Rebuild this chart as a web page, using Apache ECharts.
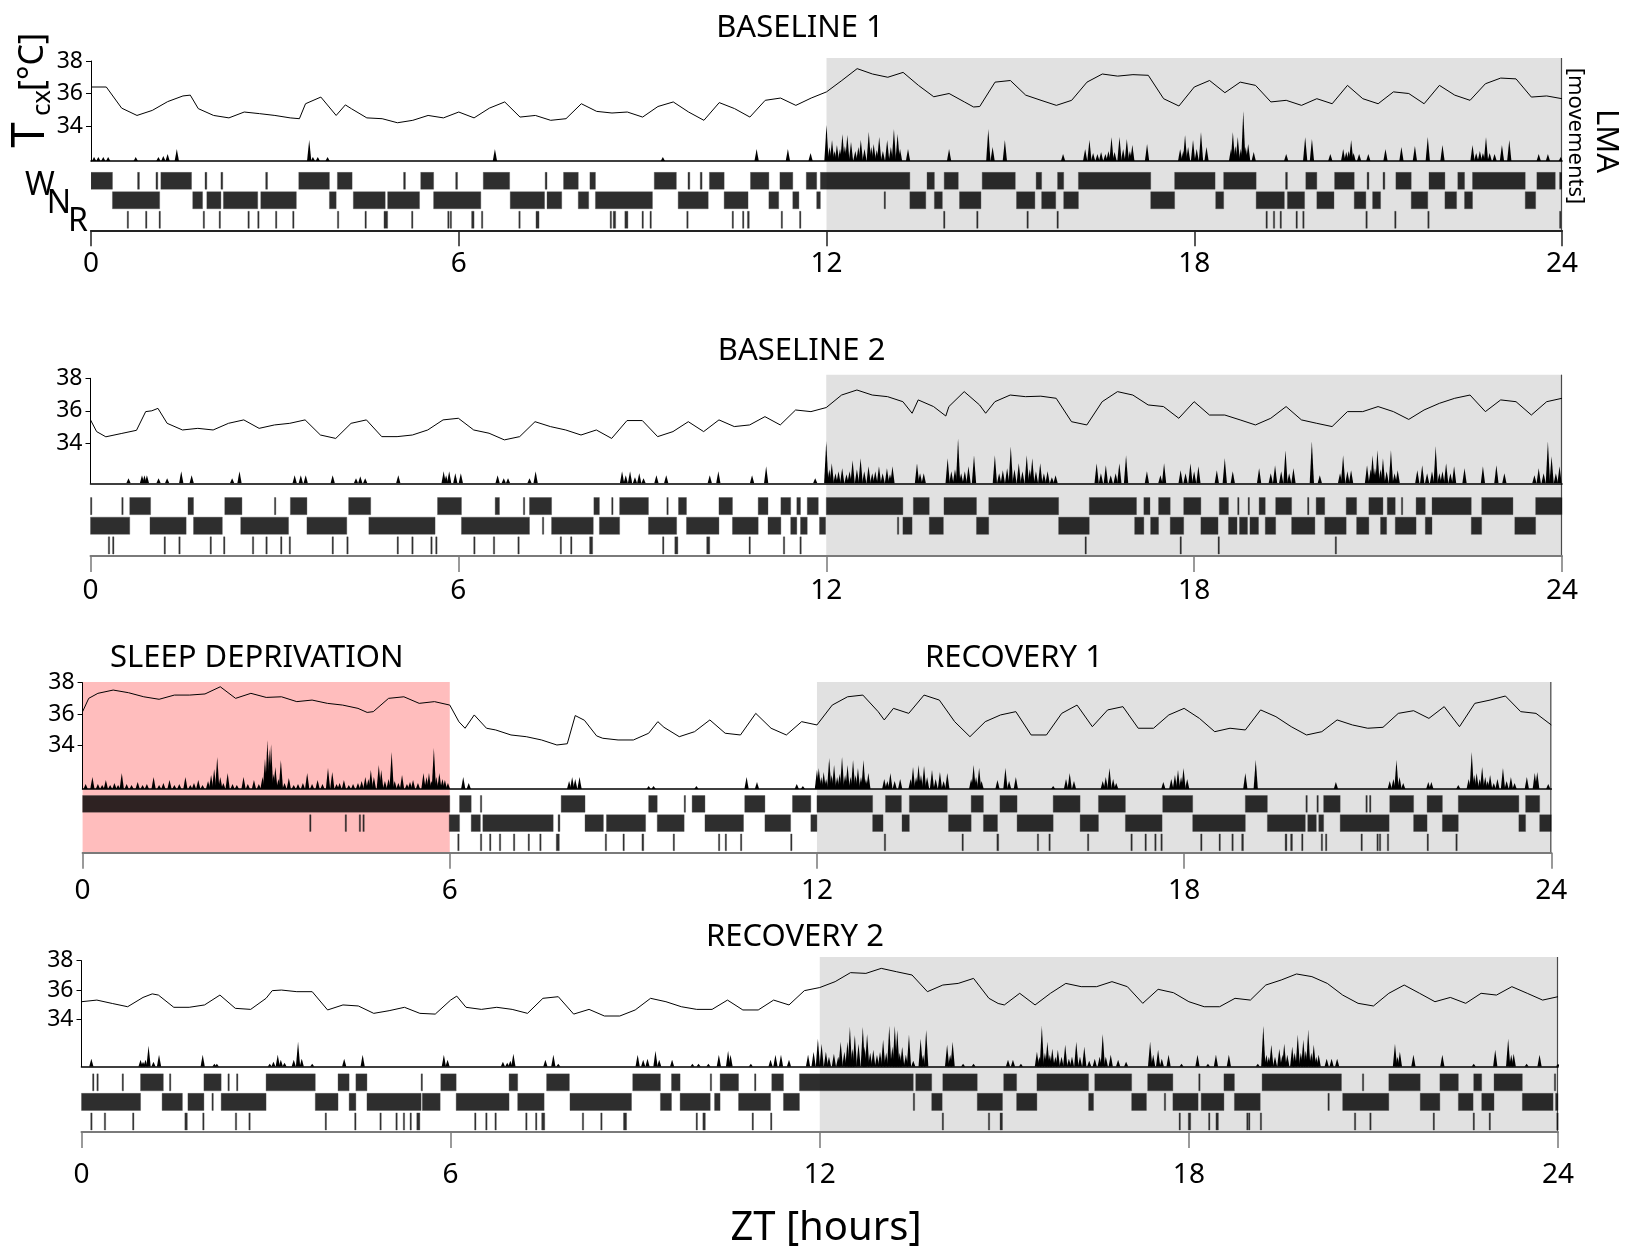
<!DOCTYPE html>
<html><head><meta charset="utf-8">
<script src="https://cdn.jsdelivr.net/npm/echarts@6/dist/echarts.min.js"></script>
<style>html,body{margin:0;padding:0;background:#fff}#c{width:1626px;height:1251px}</style>
</head><body><div id="c"></div>
<script>
const FONT = '"Noto Sans", "Open Sans", sans-serif';
const titles = ['BASELINE 1','BASELINE 2','SLEEP DEPRIVATION','RECOVERY 1','RECOVERY 2'];
const tempTicks = [34, 36, 38];
const darkPhase = [[12, 24]];
const sleepDep = [[0, 6]];

// ---------- BASELINE 1 ----------
const tempB1 = [[0,36.4],[0.25,36.4],[0.5,35.1],[0.75,34.65],[1,34.96],[1.25,35.5],[1.5,35.85],[1.62,35.9],[1.75,35.07],[2,34.65],[2.25,34.5],[2.5,34.86],[2.75,34.76],[3,34.65],[3.25,34.5],[3.4,34.45],[3.5,35.37],[3.75,35.78],[4,34.65],[4.15,35.3],[4.25,35.06],[4.5,34.5],[4.75,34.45],[5,34.2],[5.25,34.35],[5.5,34.65],[5.75,34.5],[6,34.86],[6.25,34.5],[6.5,35.1],[6.75,35.48],[7,34.55],[7.25,34.65],[7.5,34.35],[7.75,34.45],[8,35.37],[8.25,34.9],[8.5,34.8],[8.75,34.86],[9,34.55],[9.25,35.2],[9.5,35.48],[9.75,34.86],[10,34.35],[10.25,35.44],[10.5,35.07],[10.75,34.55],[11,35.58],[11.25,35.72],[11.5,35.27],[11.75,35.72],[12,36.1],[12.25,36.8],[12.5,37.53],[12.75,37.2],[13,37.0],[13.25,37.3],[13.5,36.5],[13.75,35.8],[14,36.0],[14.25,35.48],[14.4,35.17],[14.5,35.2],[14.75,36.7],[15,36.8],[15.25,35.9],[15.5,35.58],[15.75,35.27],[16,35.58],[16.25,36.7],[16.5,37.2],[16.75,37.07],[17,37.16],[17.25,37.12],[17.5,35.68],[17.75,35.23],[18,36.4],[18.25,36.8],[18.5,36.05],[18.75,36.7],[19,36.5],[19.25,35.48],[19.5,35.58],[19.75,35.27],[20,35.68],[20.25,35.37],[20.5,36.5],[20.75,35.68],[21,35.37],[21.25,36.1],[21.5,36.0],[21.75,35.37],[22,36.5],[22.25,35.9],[22.5,35.58],[22.75,36.6],[23,36.95],[23.25,36.9],[23.5,35.78],[23.75,35.85],[24,35.68]];
const lmaB1 = [[0.05,4],[0.12,4],[0.2,4],[0.28,4],[0.73,4],[1.1,4],[1.18,5],[1.25,7],[1.4,12],[3.56,21],[3.62,4],[3.7,4],[3.86,4],[6.59,12],[9.33,4],[10.86,12],[11.37,12],[11.74,8],[12.0,36],[12.05,14],[12.09,21],[12.13,10],[12.17,16],[12.22,12],[12.26,27],[12.3,15],[12.34,26],[12.4,19],[12.47,10],[12.52,14],[12.56,21],[12.62,12],[12.69,29],[12.73,14],[12.77,17],[12.82,11],[12.86,24],[12.92,10],[12.99,21],[13.05,14],[13.1,32],[13.16,27],[13.2,12],[13.33,12],[14.0,12],[14.64,32],[14.71,14],[14.91,21],[15.86,7],[16.22,12],[16.29,21],[16.35,8],[16.42,7],[16.48,9],[16.55,7],[16.6,10],[16.65,24],[16.7,9],[16.78,24],[16.84,12],[16.9,22],[16.95,10],[16.99,16],[17.23,17],[17.77,12],[17.82,10],[17.85,26],[17.9,14],[17.98,21],[18.04,12],[18.11,29],[18.2,14],[18.6,12],[18.63,29],[18.67,15],[18.71,24],[18.76,12],[18.8,50],[18.84,14],[18.88,17],[18.97,9],[19.5,7],[19.81,24],[19.92,22],[20.22,7],[20.43,12],[20.48,9],[20.52,10],[20.56,21],[20.6,8],[20.69,7],[20.84,7],[21.12,12],[21.38,14],[21.6,15],[21.81,24],[22.05,16],[22.54,16],[22.6,8],[22.66,10],[22.71,8],[22.76,24],[22.82,8],[22.9,7],[23.02,16],[23.14,21],[23.62,7],[23.77,7],[23.98,4]];
const wakeB1 = [[0,0.35],[0.76,0.79],[1.06,1.09],[1.14,1.64],[1.86,1.89],[2.12,2.15],[2.85,2.88],[3.39,3.89],[4.02,4.26],[5.1,5.13],[5.38,5.59],[5.95,5.98],[6.4,6.83],[7.41,7.44],[7.71,7.95],[8.14,8.23],[9.19,9.55],[9.74,9.77],[9.94,9.97],[10.09,10.33],[10.76,11.06],[11.24,11.45],[11.67,11.84],[11.9,13.36],[13.64,13.76],[13.92,14.15],[14.54,15.08],[15.42,15.51],[15.77,15.87],[16.11,17.29],[17.68,18.34],[18.48,19.01],[19.49,19.52],[19.82,20.0],[20.29,20.61],[20.82,20.85],[21.08,21.11],[21.29,21.54],[21.83,22.09],[22.3,22.41],[22.54,23.4],[23.59,23.89],[23.96,24]];
const nremB1 = [[0.35,1.12],[1.66,1.82],[1.89,2.12],[2.16,2.72],[2.77,3.35],[3.89,4.0],[4.28,4.8],[4.84,5.36],[5.59,6.36],[6.84,7.4],[7.44,7.68],[7.95,8.12],[8.23,9.16],[9.58,10.07],[10.33,10.72],[11.06,11.22],[11.45,11.55],[11.84,11.9],[12.94,12.96],[13.36,13.62],[13.76,13.89],[14.17,14.52],[15.1,15.4],[15.51,15.74],[15.87,16.11],[17.29,17.68],[18.35,18.48],[19.01,19.47],[19.52,19.8],[20.0,20.28],[20.61,20.8],[20.91,21.04],[21.54,21.81],[22.09,22.28],[22.41,22.54],[23.4,23.57]];
const remB1 = [[0.59,0.61],[0.89,0.91],[1.11,1.13],[1.83,1.85],[2.09,2.11],[2.56,2.58],[2.72,2.74],[3.01,3.03],[3.29,3.31],[4.02,4.04],[4.47,4.49],[4.78,4.84],[5.23,5.25],[5.82,5.84],[5.86,5.88],[6.21,6.25],[6.37,6.39],[6.98,7.0],[7.26,7.31],[8.47,8.49],[8.52,8.56],[8.71,8.76],[8.99,9.01],[9.12,9.14],[9.72,9.74],[10.46,10.48],[10.63,10.65],[10.71,10.74],[11.26,11.28],[11.56,11.58],[13.91,13.93],[14.45,14.47],[15.27,15.29],[15.76,15.78],[19.17,19.19],[19.29,19.31],[19.4,19.42],[19.66,19.68],[19.77,19.79],[20.8,20.82],[21.27,21.29],[21.81,21.83],[23.96,23.98]];

// ---------- BASELINE 2 ----------
const tempB2 = [[0,35.44],[0.1,34.72],[0.25,34.4],[0.5,34.6],[0.75,34.8],[0.9,35.95],[1.0,36.0],[1.1,36.15],[1.25,35.23],[1.5,34.82],[1.75,34.92],[2,34.82],[2.25,35.23],[2.5,35.44],[2.75,34.92],[3,35.13],[3.25,35.23],[3.5,35.44],[3.75,34.51],[4,34.3],[4.25,35.23],[4.5,35.44],[4.75,34.41],[5,34.41],[5.25,34.51],[5.5,34.82],[5.75,35.44],[6,35.54],[6.25,34.82],[6.5,34.62],[6.75,34.21],[7,34.41],[7.25,35.33],[7.5,35.03],[7.75,34.82],[8,34.51],[8.25,34.82],[8.5,34.3],[8.75,35.4],[9,35.4],[9.25,34.41],[9.5,34.72],[9.75,35.33],[10,34.72],[10.25,35.44],[10.5,35.03],[10.75,35.13],[11,35.64],[11.25,35.13],[11.5,36.05],[11.75,35.95],[12,36.2],[12.25,36.97],[12.5,37.28],[12.75,36.97],[13,36.87],[13.25,36.56],[13.4,35.85],[13.5,36.67],[13.75,36.26],[13.95,35.68],[14,36.26],[14.25,37.18],[14.5,36.36],[14.6,35.85],[14.75,36.56],[15,36.97],[15.25,36.87],[15.5,36.9],[15.75,36.77],[16,35.33],[16.25,35.13],[16.5,36.56],[16.75,37.18],[17,36.97],[17.25,36.36],[17.5,36.26],[17.75,35.54],[18,36.56],[18.25,35.74],[18.5,35.74],[18.75,35.44],[19,35.13],[19.25,35.54],[19.5,36.26],[19.75,35.44],[20,35.23],[20.25,35.03],[20.5,35.95],[20.75,35.95],[21,36.26],[21.25,35.95],[21.5,35.47],[21.75,36.05],[22,36.46],[22.25,36.77],[22.5,36.97],[22.75,35.95],[23,36.67],[23.25,36.56],[23.5,35.74],[23.75,36.56],[24,36.77]];
const lmaB2 = [[0.62,5],[0.84,8],[0.88,8],[0.92,8],[1.11,5],[1.25,5],[1.48,12],[1.65,8],[2.31,5],[2.43,12],[3.33,8],[3.43,8],[3.51,8],[3.95,8],[4.33,5],[4.4,7],[4.48,5],[5.02,8],[5.76,12],[5.8,8],[5.85,12],[5.95,10],[6.04,10],[6.64,8],[6.74,5],[6.81,5],[7.16,5],[7.26,12],[8.67,12],[8.73,8],[8.8,12],[8.88,6],[8.95,10],[9.02,5],[9.23,8],[9.39,8],[10.1,8],[10.24,12],[10.79,8],[11.02,17],[11.82,5],[12.0,42],[12.05,14],[12.09,20],[12.15,10],[12.2,12],[12.26,15],[12.33,9],[12.38,12],[12.43,23],[12.5,14],[12.56,25],[12.62,12],[12.69,17],[12.75,10],[12.8,12],[12.86,17],[12.92,10],[12.99,15],[13.04,9],[13.08,17],[13.48,20],[13.53,10],[13.59,10],[13.98,25],[14.04,12],[14.1,14],[14.15,45],[14.2,10],[14.26,12],[14.32,17],[14.41,28],[14.75,28],[14.82,10],[14.88,13],[14.95,15],[15.01,37],[15.07,14],[15.14,20],[15.2,12],[15.27,28],[15.32,14],[15.36,25],[15.42,12],[15.49,20],[15.55,10],[15.61,12],[15.68,6],[15.74,8],[16.41,20],[16.48,10],[16.56,18],[16.64,8],[16.72,10],[16.78,20],[16.89,28],[17.23,12],[17.45,8],[17.51,20],[17.78,13],[17.86,10],[17.94,20],[18.0,12],[18.07,17],[18.37,13],[18.5,25],[18.63,12],[19.06,15],[19.25,10],[19.32,18],[19.42,12],[19.49,33],[19.55,10],[19.62,15],[19.92,42],[20.05,8],[20.38,10],[20.43,28],[20.5,12],[20.56,13],[20.82,18],[20.88,14],[20.91,28],[20.95,15],[20.99,33],[21.04,14],[21.08,25],[21.14,12],[21.21,33],[21.27,10],[21.32,13],[21.64,13],[21.72,18],[21.8,10],[21.88,12],[21.94,37],[22.0,10],[22.05,12],[22.11,20],[22.18,10],[22.24,17],[22.41,15],[22.71,17],[22.93,18],[23.06,10],[23.55,8],[23.62,15],[23.7,10],[23.77,42],[23.83,27],[23.9,10],[23.96,17]];
const wakeB2 = [[0,0.02],[0.51,0.53],[0.64,0.98],[1.59,1.68],[2.19,2.47],[3.0,3.02],[3.26,3.53],[4.21,4.57],[5.66,6.05],[6.6,6.67],[7.06,7.08],[7.16,7.52],[8.21,8.3],[8.5,8.52],[8.63,9.1],[9.4,9.42],[9.59,9.72],[10.25,10.47],[10.89,11.05],[11.26,11.42],[11.52,11.58],[11.69,11.87],[12.0,13.25],[13.42,13.68],[13.92,14.45],[14.65,15.79],[16.29,17.06],[17.18,17.28],[17.42,17.61],[17.83,18.11],[18.41,18.56],[18.71,18.73],[18.88,18.9],[19.06,19.16],[19.33,19.59],[19.85,19.87],[19.99,20.13],[20.48,20.65],[20.85,21.08],[21.15,21.28],[21.38,21.4],[21.62,21.77],[21.88,22.52],[22.69,23.2],[23.57,24]];
const nremB2 = [[0,0.64],[0.97,1.56],[1.68,2.15],[2.45,3.23],[3.53,4.18],[4.54,5.62],[6.05,7.16],[7.37,7.39],[7.52,8.2],[8.3,8.63],[9.1,9.56],[9.72,10.25],[10.47,10.89],[11.05,11.26],[11.42,11.52],[11.58,11.69],[11.89,11.99],[13.16,13.18],[13.25,13.4],[13.68,13.91],[14.45,14.65],[15.79,16.29],[17.03,17.18],[17.29,17.42],[17.61,17.83],[18.11,18.39],[18.56,18.7],[18.74,18.87],[18.91,19.05],[19.16,19.33],[19.59,19.97],[20.13,20.48],[20.65,20.85],[21.04,21.14],[21.28,21.62],[21.77,21.88],[22.52,22.69],[23.23,23.57]];
const remB2 = [[0.29,0.31],[0.36,0.38],[1.2,1.22],[1.44,1.46],[1.95,1.97],[2.17,2.19],[2.64,2.66],[2.86,2.88],[3.1,3.12],[3.24,3.26],[3.94,3.96],[4.18,4.2],[5.0,5.02],[5.24,5.26],[5.55,5.57],[5.63,5.65],[6.25,6.27],[6.57,6.59],[6.97,6.99],[7.66,7.68],[7.83,7.85],[8.14,8.19],[9.33,9.35],[9.53,9.58],[10.05,10.1],[10.74,10.76],[11.3,11.32],[11.57,11.59],[16.22,16.24],[17.77,17.79],[18.39,18.41],[20.3,20.32]];

// ---------- SLEEP DEPRIVATION / RECOVERY 1 ----------
const tempR1 = [[0,36.15],[0.1,37.0],[0.25,37.32],[0.5,37.53],[0.75,37.36],[1,37.1],[1.25,36.94],[1.5,37.21],[1.75,37.21],[2,37.28],[2.25,37.74],[2.5,37.0],[2.75,37.32],[3,37.06],[3.25,37.1],[3.5,36.79],[3.75,36.89],[4,36.68],[4.25,36.57],[4.5,36.36],[4.65,36.1],[4.75,36.15],[5,37.0],[5.25,37.1],[5.5,36.68],[5.75,36.79],[6,36.57],[6.15,35.5],[6.25,35.09],[6.4,35.94],[6.6,35.09],[6.75,34.98],[7,34.66],[7.25,34.55],[7.5,34.34],[7.75,34.02],[7.92,34.1],[8.05,35.9],[8.2,35.6],[8.4,34.6],[8.5,34.45],[8.75,34.34],[9,34.34],[9.25,34.77],[9.4,35.51],[9.5,35.15],[9.75,34.55],[10,34.87],[10.25,35.62],[10.5,34.77],[10.75,34.66],[11,36.04],[11.25,35.09],[11.5,34.66],[11.75,35.51],[12,35.3],[12.25,36.57],[12.5,37.1],[12.75,37.21],[13,36.15],[13.1,35.62],[13.25,36.36],[13.5,36.04],[13.75,37.21],[14,36.89],[14.25,35.51],[14.5,34.55],[14.75,35.51],[15,35.94],[15.25,36.15],[15.5,34.66],[15.75,34.66],[16,36.04],[16.25,36.57],[16.5,35.19],[16.75,36.26],[17,36.47],[17.25,35.09],[17.5,35.09],[17.75,35.94],[18,36.36],[18.25,35.72],[18.5,34.87],[18.75,35.09],[19,34.98],[19.25,36.26],[19.5,35.83],[19.75,35.19],[20,34.66],[20.25,34.87],[20.5,35.62],[20.75,35.3],[21,35.09],[21.25,35.15],[21.5,36.04],[21.75,36.21],[22,35.72],[22.25,36.47],[22.5,35.19],[22.75,36.68],[23,36.89],[23.25,37.15],[23.5,36.15],[23.75,36.04],[24,35.3]];
const lmaR1 = [[0.05,5],[0.16,12],[0.25,5],[0.32,4],[0.38,9],[0.45,4],[0.52,6],[0.58,4],[0.64,16],[0.72,5],[0.8,4],[0.9,7],[0.98,4],[1.05,5],[1.16,12],[1.25,4],[1.32,6],[1.42,9],[1.5,4],[1.58,5],[1.68,12],[1.76,4],[1.82,6],[1.89,9],[1.96,4],[2.05,8],[2.1,14],[2.15,20],[2.2,32],[2.25,12],[2.3,6],[2.37,16],[2.45,5],[2.52,4],[2.63,12],[2.7,5],[2.8,9],[2.88,5],[2.94,12],[2.98,30],[3.02,49],[3.05,40],[3.08,45],[3.12,15],[3.15,22],[3.2,10],[3.24,29],[3.3,6],[3.37,11],[3.45,4],[3.52,5],[3.6,6],[3.67,16],[3.75,5],[3.84,9],[3.92,5],[4.01,21],[4.08,17],[4.15,5],[4.2,6],[4.27,9],[4.35,4],[4.42,5],[4.5,6],[4.56,8],[4.62,12],[4.67,10],[4.71,19],[4.76,12],[4.84,24],[4.88,19],[4.94,8],[5.0,10],[5.05,37],[5.1,8],[5.16,6],[5.22,14],[5.3,5],[5.35,7],[5.4,9],[5.48,6],[5.57,16],[5.62,12],[5.66,16],[5.7,8],[5.74,41],[5.78,12],[5.83,16],[5.88,10],[5.92,9],[5.97,6],[6.22,12],[6.31,6],[7.95,8],[8.0,12],[8.05,10],[8.12,12],[9.25,3],[9.33,3],[10.03,3],[10.85,12],[11.02,7],[11.67,5],[11.77,3],[12.0,19],[12.03,21],[12.07,12],[12.11,17],[12.15,10],[12.2,31],[12.24,14],[12.28,24],[12.33,12],[12.37,15],[12.41,32],[12.46,14],[12.5,24],[12.55,12],[12.59,29],[12.63,14],[12.67,21],[12.72,12],[12.76,29],[12.8,10],[12.84,16],[13.1,10],[13.15,8],[13.2,16],[13.27,8],[13.36,10],[13.53,10],[13.57,22],[13.62,12],[13.66,24],[13.7,14],[13.75,23],[13.8,12],[13.88,19],[13.94,10],[14.01,17],[14.07,8],[14.13,16],[14.52,10],[14.56,24],[14.6,12],[14.65,21],[14.69,8],[14.95,9],[15.08,21],[15.14,8],[15.25,12],[15.86,3],[16.07,10],[16.13,16],[16.2,8],[16.67,8],[16.72,12],[16.78,21],[16.84,10],[16.89,6],[17.66,7],[17.79,10],[17.85,14],[17.9,19],[17.95,12],[17.99,21],[18.05,10],[19.0,16],[19.17,29],[20.48,7],[21.36,8],[21.42,10],[21.47,29],[21.52,12],[21.58,6],[21.99,7],[22.04,7],[22.48,4],[22.65,10],[22.7,37],[22.74,14],[22.78,16],[22.83,10],[22.87,22],[22.92,12],[22.96,8],[23.0,14],[23.06,6],[23.12,10],[23.21,21],[23.27,8],[23.34,12],[23.4,6],[23.6,12],[23.73,16],[23.77,17],[23.95,5]];
const wakeR1 = [[0,6],[6.16,6.35],[6.5,6.52],[7.82,8.21],[9.25,9.39],[9.83,9.85],[9.96,10.17],[10.82,11.15],[11.6,11.9],[12.0,12.91],[13.12,13.38],[13.51,14.13],[14.52,14.72],[14.99,15.27],[15.86,16.3],[16.6,17.04],[17.65,18.14],[19.0,19.36],[19.99,20.01],[20.17,20.19],[20.28,20.55],[20.97,20.99],[21.03,21.05],[21.36,21.75],[21.97,22.22],[22.48,23.47],[23.58,23.81]];
const nremR1 = [[3.71,3.73],[4.29,4.31],[4.52,4.54],[4.58,4.6],[5.99,6.16],[6.35,6.5],[6.54,7.69],[7.77,7.8],[8.21,8.51],[8.56,9.2],[9.39,9.83],[10.17,10.8],[11.15,11.57],[11.9,12.0],[12.91,13.08],[13.39,13.51],[14.15,14.52],[14.72,14.95],[15.27,15.86],[16.3,16.6],[17.04,17.64],[18.14,19.0],[19.36,19.98],[20.02,20.16],[20.2,20.28],[20.55,21.35],[21.75,21.97],[22.22,22.48],[23.47,23.58],[23.81,24]];
const remR1 = [[6.13,6.15],[6.5,6.52],[6.65,6.67],[6.81,6.83],[7.04,7.06],[7.28,7.3],[7.47,7.49],[7.74,7.79],[8.54,8.56],[8.83,8.85],[9.14,9.17],[9.65,9.67],[10.39,10.41],[10.5,10.52],[10.75,10.77],[11.57,11.59],[13.1,13.12],[14.37,14.39],[14.94,14.97],[15.6,15.62],[15.79,15.81],[16.42,16.44],[17.13,17.15],[17.36,17.38],[17.52,17.54],[17.62,17.64],[18.27,18.29],[18.57,18.59],[18.78,18.8],[18.94,18.97],[19.65,19.68],[19.74,19.77],[19.92,19.94],[20.24,20.26],[20.31,20.33],[20.89,20.91],[21.15,21.17],[21.19,21.21],[21.32,21.34],[21.97,21.99],[22.44,22.46]];

// ---------- RECOVERY 2 ----------
const tempR2 = [[0,35.22],[0.25,35.33],[0.5,35.1],[0.75,34.88],[1,35.51],[1.15,35.75],[1.25,35.67],[1.5,34.84],[1.75,34.84],[2,35.0],[2.25,35.67],[2.5,34.77],[2.75,34.7],[3,35.45],[3.1,35.97],[3.25,36.01],[3.5,35.9],[3.75,35.9],[4,34.66],[4.25,35.0],[4.5,34.93],[4.75,34.43],[5,34.61],[5.25,34.84],[5.5,34.43],[5.75,34.38],[6,35.33],[6.1,35.6],[6.25,34.84],[6.5,34.7],[6.75,34.84],[7,34.7],[7.25,34.43],[7.5,35.45],[7.75,35.56],[8,34.38],[8.25,34.7],[8.5,34.25],[8.75,34.25],[9,34.66],[9.25,35.45],[9.5,35.22],[9.75,34.88],[10,34.7],[10.25,34.7],[10.5,35.33],[10.75,34.66],[11,34.66],[11.25,35.33],[11.5,35.0],[11.75,35.97],[12,36.18],[12.25,36.58],[12.5,37.19],[12.75,37.14],[13,37.48],[13.25,37.25],[13.5,37.03],[13.75,35.9],[14,36.35],[14.25,36.46],[14.5,36.8],[14.75,35.45],[14.9,35.1],[15,35.0],[15.25,35.79],[15.5,35.0],[15.75,35.79],[16,36.46],[16.25,36.24],[16.5,36.24],[16.75,36.58],[17,36.24],[17.25,35.11],[17.5,36.06],[17.75,35.83],[18,35.22],[18.25,34.88],[18.5,34.88],[18.75,35.45],[19,35.33],[19.25,36.35],[19.5,36.69],[19.75,37.1],[20,36.92],[20.25,36.46],[20.5,35.67],[20.75,35.11],[21,34.93],[21.25,35.79],[21.5,36.35],[21.75,35.79],[22,35.22],[22.25,35.51],[22.5,35.11],[22.75,35.79],[23,35.67],[23.25,36.24],[23.5,35.79],[23.75,35.33],[24,35.56]];
const lmaR2 = [[0.16,8],[0.96,7],[1.0,5],[1.04,7],[1.09,21],[1.17,5],[1.26,12],[1.97,12],[2.16,3],[2.2,3],[3.06,3],[3.12,5],[3.19,12],[3.24,7],[3.3,4],[3.45,7],[3.52,25],[3.58,8],[3.75,3],[4.27,8],[4.57,12],[5.89,12],[5.95,7],[6.85,5],[6.92,4],[6.97,6],[7.02,13],[7.54,7],[7.67,12],[7.75,3],[9.04,12],[9.13,7],[9.2,8],[9.33,16],[9.39,7],[9.6,7],[9.93,3],[10.03,3],[10.19,3],[10.36,12],[10.51,16],[10.55,12],[10.88,3],[11.2,7],[11.28,12],[11.37,12],[11.5,7],[11.81,12],[11.9,15],[11.97,28],[12.03,23],[12.1,15],[12.15,10],[12.23,13],[12.3,10],[12.34,25],[12.4,15],[12.45,25],[12.49,40],[12.53,18],[12.57,32],[12.63,23],[12.7,40],[12.73,20],[12.77,33],[12.82,14],[12.87,17],[12.93,12],[12.98,15],[13.03,27],[13.08,14],[13.13,41],[13.18,20],[13.22,41],[13.26,37],[13.3,14],[13.34,20],[13.4,12],[13.45,32],[13.52,6],[13.64,28],[13.68,12],[13.73,37],[14.07,22],[14.12,12],[14.16,25],[14.33,3],[14.5,3],[15.06,7],[15.14,7],[15.27,3],[15.53,15],[15.57,10],[15.61,41],[15.66,14],[15.7,25],[15.74,12],[15.78,18],[15.83,10],[15.87,17],[15.93,10],[15.99,22],[16.05,8],[16.1,10],[16.17,25],[16.23,10],[16.3,20],[16.38,6],[16.47,8],[16.55,10],[16.6,33],[16.65,10],[16.73,12],[16.85,7],[16.98,5],[17.37,25],[17.42,12],[17.5,17],[17.56,8],[17.67,12],[17.88,3],[18.14,12],[18.31,3],[18.44,12],[18.65,12],[19.12,3],[19.21,41],[19.26,12],[19.3,10],[19.34,22],[19.4,10],[19.47,18],[19.52,12],[19.55,23],[19.6,12],[19.68,20],[19.72,14],[19.77,32],[19.82,14],[19.86,27],[19.9,16],[19.94,37],[19.99,14],[20.03,22],[20.07,10],[20.11,12],[20.24,8],[20.32,8],[20.41,8],[21.35,23],[21.39,10],[21.43,15],[21.65,12],[22.12,12],[22.63,3],[22.98,17],[23.19,28],[23.24,12],[23.28,13],[23.49,3],[23.7,12],[24.0,3]];
const wakeR2 = [[0.18,0.2],[0.25,0.27],[0.66,0.68],[0.96,1.33],[1.43,1.45],[1.99,2.27],[2.38,2.4],[2.52,2.54],[3.0,3.8],[4.17,4.35],[4.46,4.64],[5.52,5.54],[5.84,6.09],[6.95,7.09],[7.56,7.93],[8.96,9.41],[9.59,9.73],[10.22,10.24],[10.38,10.68],[10.94,10.96],[11.22,11.41],[11.67,13.52],[13.56,13.82],[14.0,14.56],[14.99,15.2],[15.53,16.37],[16.47,17.07],[17.33,17.74],[18.16,18.18],[18.57,18.74],[19.19,20.48],[20.82,20.84],[21.25,21.76],[22.08,22.38],[22.63,22.76],[22.96,23.42],[23.94,23.96]];
const nremR2 = [[0,0.96],[1.31,1.64],[1.73,1.99],[2.12,2.14],[2.27,3.0],[3.8,4.17],[4.35,4.46],[4.64,5.52],[5.54,5.83],[6.09,6.95],[7.09,7.52],[7.94,8.94],[9.41,9.59],[9.73,10.22],[10.29,10.38],[10.68,11.2],[11.41,11.67],[13.52,13.54],[13.82,13.99],[14.56,14.97],[15.2,15.53],[16.37,16.45],[17.07,17.31],[17.6,17.62],[17.74,18.15],[18.2,18.57],[18.74,19.16],[20.26,20.28],[20.5,21.25],[21.76,22.08],[22.38,22.62],[22.76,22.96],[23.42,23.92],[23.96,24]];
const remR2 = [[0.15,0.17],[0.37,0.39],[0.83,0.85],[1.68,1.72],[1.97,1.99],[2.5,2.52],[2.72,2.74],[3.96,3.98],[4.44,4.46],[4.85,4.87],[5.11,5.13],[5.23,5.25],[5.34,5.36],[5.45,5.5],[6.39,6.41],[6.57,6.59],[6.72,6.74],[7.22,7.24],[7.38,7.4],[7.48,7.53],[8.14,8.16],[8.44,8.46],[8.81,8.86],[9.99,10.01],[10.1,10.14],[10.9,10.92],[11.2,11.22],[13.99,14.01],[14.74,14.76],[14.93,14.97],[17.84,17.86],[17.99,18.03],[18.32,18.34],[18.44,18.48],[18.94,18.96],[18.97,18.99],[19.16,19.18],[20.69,20.71],[20.94,20.96],[21.97,21.99],[22.62,22.64],[22.88,22.9],[23.98,24]];

// ---------- layout (pixels) ----------
const layout = [
  {x0:91,   x24:1562,   y38:61,    y34:126,    base:161,    shadeTop:58,    hypTop:171.7,  hypBot:230.3, lblMargin:20, axisColor:'#222'},
  {x0:90.5, x24:1562,   y38:378.3, y34:443.3,  base:483.3,  shadeTop:374.7, hypTop:497,    hypBot:556,   lblMargin:21, axisColor:'#7a7a7a'},
  {x0:82.6, x24:1551.3, y38:682.7, y34:745.3,  base:789,    shadeTop:682,   hypTop:795,    hypBot:852.7, lblMargin:24, axisColor:'#7a7a7a'},
  {x0:81.5, x24:1558,   y38:960.7, y34:1019.7, base:1066.7, shadeTop:957,   hypTop:1073.3, hypBot:1132,  lblMargin:29, axisColor:'#7a7a7a'}
];
const panels = [
  {temp:tempB1, lma:lmaB1, W:wakeB1, N:nremB1, R:remB1, dark:darkPhase, sd:[]},
  {temp:tempB2, lma:lmaB2, W:wakeB2, N:nremB2, R:remB2, dark:darkPhase, sd:[]},
  {temp:tempR1, lma:lmaR1, W:wakeR1, N:nremR1, R:remR1, dark:darkPhase, sd:sleepDep},
  {temp:tempR2, lma:lmaR2, W:wakeR2, N:nremR2, R:remR2, dark:darkPhase, sd:[]}
];

function shadeRender(color, edge) {
  return function (params, api) {
    const a = api.coord([api.value(0), 1]);
    const b = api.coord([api.value(1), 0]);
    const children = [{type:'rect', shape:{x:a[0], y:a[1], width:b[0]-a[0], height:b[1]-a[1]}, style:{fill:color}}];
    if (edge) children.push({type:'line', shape:{x1:b[0]-0.5, y1:a[1], x2:b[0]-0.5, y2:b[1]}, style:{stroke:'#4a4a4a', lineWidth:1.2}});
    return {type:'group', children};
  };
}
function lmaRender(params, api) {
  const t = api.value(0), h = api.value(1);
  const L = api.coord([t - 0.035, 0]), P = api.coord([t, h]), R = api.coord([t + 0.035, 0]);
  return {type:'polygon', shape:{points:[L, P, R]}, style:{fill:'#000'}};
}
function hypRender(params, api) {
  const s = api.value(0), e = api.value(1), row = api.value(2);
  const a = api.coord([s, row + 1]), b = api.coord([e, row]);
  const w = Math.max(b[0] - a[0], 1.4);
  return {type:'rect', shape:{x:a[0], y:a[1] + 0.5, width:w, height:b[1] - a[1] - 2.5},
          style:{fill:'rgba(0,0,0,0.82)', stroke:'rgba(70,70,70,0.5)', lineWidth:0.7}};
}

const grid = [], xAxis = [], yAxis = [], series = [];
layout.forEach((L, k) => {
  const P = panels[k];
  const w = L.x24 - L.x0;
  const pxPerDeg = (L.y34 - L.y38) / 4;
  const tmin = 34 - (L.base - L.y34) / pxPerDeg;
  const g = grid.length, xa = xAxis.length, ya = yAxis.length;
  grid.push({left:L.x0, width:w, top:L.shadeTop, height:L.hypBot - L.shadeTop});
  grid.push({left:L.x0, width:w, top:L.y38, height:L.base - L.y38});
  grid.push({left:L.x0, width:w, top:L.hypTop, height:L.hypBot - L.hypTop});
  xAxis.push({gridIndex:g, type:'value', min:0, max:24, show:false});
  xAxis.push({gridIndex:g+1, type:'value', min:0, max:24,
    axisLine:{show:true, onZero:false, lineStyle:{color:'#000', width:1.6}},
    axisTick:{show:false}, axisLabel:{show:false}, splitLine:{show:false}});
  xAxis.push({gridIndex:g+2, type:'value', min:0, max:24, interval:6,
    axisLine:{show:true, onZero:false, lineStyle:{color:L.axisColor, width:2}},
    axisTick:{show:true, length:16, lineStyle:{color:L.axisColor, width:1.5}},
    axisLabel:{fontSize:28, color:'#000', fontFamily:FONT, margin:L.lblMargin},
    splitLine:{show:false}});
  yAxis.push({gridIndex:g, type:'value', min:0, max:1, show:false});
  yAxis.push({gridIndex:g+1, type:'value', min:tmin, max:38, position:'left',
    axisLine:{show:true, lineStyle:{color:'#000', width:1}},
    axisTick:{show:true, length:5, customValues:tempTicks, lineStyle:{color:'#000'}},
    axisLabel:{show:true, customValues:tempTicks, fontSize:23, color:'#000', fontFamily:FONT, margin:8},
    splitLine:{show:false}});
  yAxis.push({gridIndex:g+1, type:'value', min:0, max:L.base - L.y38, show:false});
  yAxis.push({gridIndex:g+2, type:'value', min:0, max:3, show:false});

  series.push({type:'custom', xAxisIndex:xa, yAxisIndex:ya, data:P.dark, renderItem:shadeRender('#e1e1e1', true), z:-10, silent:true, clip:false});
  if (P.sd.length) series.push({type:'custom', xAxisIndex:xa, yAxisIndex:ya, data:P.sd, renderItem:shadeRender('#ffbdbd', false), z:-9, silent:true, clip:false});
  series.push({type:'line', xAxisIndex:xa+1, yAxisIndex:ya+1, data:P.temp, symbol:'none', showSymbol:false,
    lineStyle:{color:'#000', width:1}, z:4, silent:true});
  series.push({type:'custom', xAxisIndex:xa+1, yAxisIndex:ya+2, data:P.lma, renderItem:lmaRender, clip:true, z:3, silent:true});
  const hyp = [].concat(P.W.map(d => [d[0], d[1], 2]), P.N.map(d => [d[0], d[1], 1]), P.R.map(d => [d[0], d[1], 0]));
  series.push({type:'custom', xAxisIndex:xa+2, yAxisIndex:ya+3, data:hyp, renderItem:hypRender, clip:true, z:3, silent:true});
});

const graphic = [];
function txt(text, x, y, size, rot) {
  graphic.push({type:'text', x:x, y:y, rotation:rot || 0, silent:true, z:10,
    style:{text:text, fontSize:size, fontFamily:FONT, fill:'#000', align:'center', verticalAlign:'middle'}});
}
const titlePos = [[800,28],[801.6,351.5],[256.7,658.5],[1014,658.5],[795,937.5]];
titles.forEach((t, i) => txt(t, titlePos[i][0], titlePos[i][1], 31));
txt('T', 31, 135, 46, Math.PI/2);
txt('cx', 43, 103, 26, Math.PI/2);
txt('[°C]', 33, 62, 34, Math.PI/2);
txt('W', 40, 186, 32);
txt('N', 59, 204, 32);
txt('R', 78, 222, 32);
txt('LMA', 1606, 141, 31, -Math.PI/2);
txt('[movements]', 1575, 136, 22, -Math.PI/2);
txt('ZT [hours]', 826, 1229, 40);

const chart = echarts.init(document.getElementById('c'), null, {renderer:'canvas'});
chart.setOption({animation:false, backgroundColor:'#fff', grid, xAxis, yAxis, series, graphic});
</script></body></html>
